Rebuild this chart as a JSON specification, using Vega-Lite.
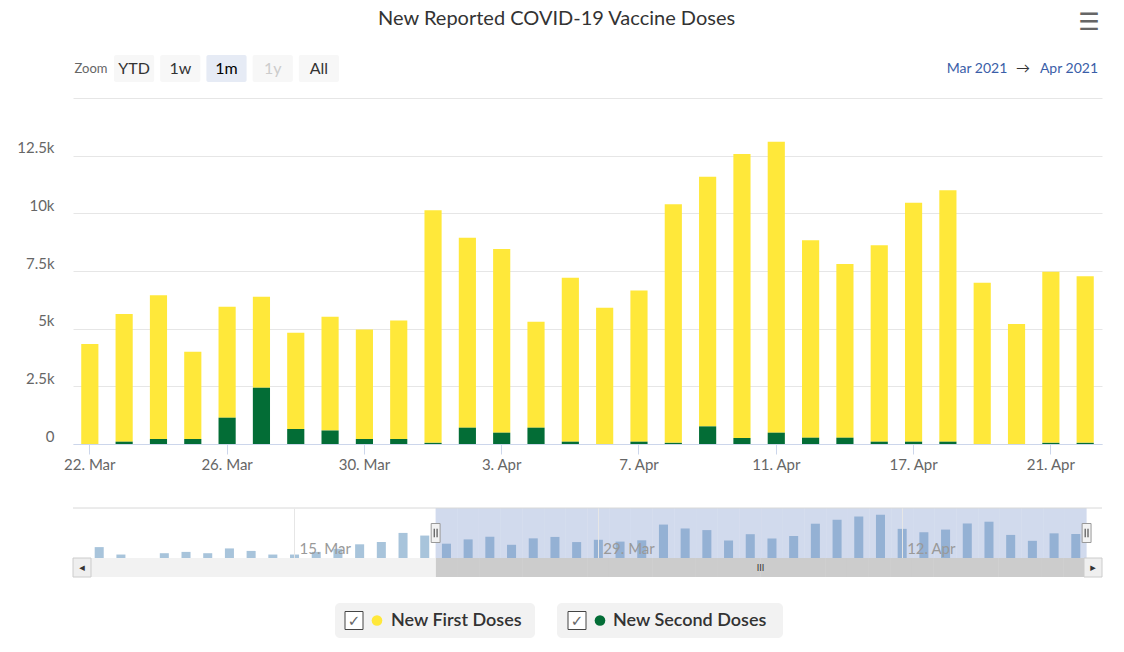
{
  "$schema": "https://vega.github.io/schema/vega-lite/v6.json",
  "padding": {"left": 16, "top": 8, "right": 0, "bottom": 0},
  "background": "white",
  "title": {"text": "New Reported COVID-19 Vaccine Doses", "fontSize": 20, "fontWeight": "normal", "color": "#333333", "font": "Lato", "anchor": "middle", "dx": -3, "offset": -18},
  "config": {"view": {"stroke": null}, "font": "Lato", "axis": {"labelFont": "Lato"}},
  "datasets": {
    "main": [
      {"d": "22. Mar", "New First Doses": 4336, "New Second Doses": 0},
      {"d": "23. Mar", "New First Doses": 5537, "New Second Doses": 100},
      {"d": "24. Mar", "New First Doses": 6227, "New Second Doses": 217},
      {"d": "25. Mar", "New First Doses": 3785, "New Second Doses": 217},
      {"d": "26. Mar", "New First Doses": 4813, "New Second Doses": 1140},
      {"d": "27. Mar", "New First Doses": 3946, "New Second Doses": 2441},
      {"d": "28. Mar", "New First Doses": 4176, "New Second Doses": 650},
      {"d": "29. Mar", "New First Doses": 4930, "New Second Doses": 590},
      {"d": "30. Mar", "New First Doses": 4752, "New Second Doses": 217},
      {"d": "31. Mar", "New First Doses": 5142, "New Second Doses": 217},
      {"d": "1. Apr", "New First Doses": 10079, "New Second Doses": 50},
      {"d": "2. Apr", "New First Doses": 8238, "New Second Doses": 707},
      {"d": "3. Apr", "New First Doses": 7965, "New Second Doses": 490},
      {"d": "4. Apr", "New First Doses": 4596, "New Second Doses": 707},
      {"d": "5. Apr", "New First Doses": 7111, "New Second Doses": 100},
      {"d": "6. Apr", "New First Doses": 5910, "New Second Doses": 0},
      {"d": "7. Apr", "New First Doses": 6560, "New Second Doses": 100},
      {"d": "8. Apr", "New First Doses": 10339, "New Second Doses": 50},
      {"d": "9. Apr", "New First Doses": 10827, "New Second Doses": 763},
      {"d": "10. Apr", "New First Doses": 12314, "New Second Doses": 260},
      {"d": "11. Apr", "New First Doses": 12618, "New Second Doses": 490},
      {"d": "12. Apr", "New First Doses": 8555, "New Second Doses": 273},
      {"d": "13. Apr", "New First Doses": 7532, "New Second Doses": 273},
      {"d": "14. Apr", "New First Doses": 8511, "New Second Doses": 100},
      {"d": "17. Apr", "New First Doses": 10363, "New Second Doses": 100},
      {"d": "18. Apr", "New First Doses": 10896, "New Second Doses": 100},
      {"d": "19. Apr", "New First Doses": 6994, "New Second Doses": 0},
      {"d": "20. Apr", "New First Doses": 5203, "New Second Doses": 0},
      {"d": "21. Apr", "New First Doses": 7421, "New Second Doses": 50},
      {"d": "22. Apr", "New First Doses": 7217, "New Second Doses": 50}
    ],
    "nav": [
      {"d": "6. Mar", "total": 3300}, {"d": "7. Mar", "total": 1050}, {"d": "8. Mar", "total": 0},
      {"d": "9. Mar", "total": 1450}, {"d": "10. Mar", "total": 1850}, {"d": "11. Mar", "total": 1450},
      {"d": "12. Mar", "total": 2900}, {"d": "13. Mar", "total": 2150}, {"d": "14. Mar", "total": 1050},
      {"d": "15. Mar", "total": 1050}, {"d": "16. Mar", "total": 1850}, {"d": "17. Mar", "total": 2800},
      {"d": "18. Mar", "total": 4150}, {"d": "19. Mar", "total": 4850}, {"d": "20. Mar", "total": 7600},
      {"d": "21. Mar", "total": 6800}, {"d": "22. Mar", "total": 4336}, {"d": "23. Mar", "total": 5637},
      {"d": "24. Mar", "total": 6444}, {"d": "25. Mar", "total": 4002}, {"d": "26. Mar", "total": 5953},
      {"d": "27. Mar", "total": 6387}, {"d": "28. Mar", "total": 4826}, {"d": "29. Mar", "total": 5520},
      {"d": "30. Mar", "total": 4969}, {"d": "31. Mar", "total": 5359}, {"d": "1. Apr", "total": 10129},
      {"d": "2. Apr", "total": 8945}, {"d": "3. Apr", "total": 8455}, {"d": "4. Apr", "total": 5303},
      {"d": "5. Apr", "total": 7211}, {"d": "6. Apr", "total": 5910}, {"d": "7. Apr", "total": 6660},
      {"d": "8. Apr", "total": 10389}, {"d": "9. Apr", "total": 11590}, {"d": "10. Apr", "total": 12574},
      {"d": "11. Apr", "total": 13108}, {"d": "12. Apr", "total": 8828}, {"d": "13. Apr", "total": 7805},
      {"d": "14. Apr", "total": 8611}, {"d": "17. Apr", "total": 10463}, {"d": "18. Apr", "total": 10996},
      {"d": "19. Apr", "total": 6994}, {"d": "20. Apr", "total": 5203}, {"d": "21. Apr", "total": 7471},
      {"d": "22. Apr", "total": 7267}
    ],
    "legend": [{"s": "New First Doses"}, {"s": "New Second Doses"}],
    "buttons": [{"b": "YTD"}, {"b": "1w"}, {"b": "1m"}, {"b": "1y"}, {"b": "All"}],
    "range": [{"t": "Mar 2021"}, {"t": "→"}, {"t": "Apr 2021"}],
    "arrows": [{"a": "◂"}, {"a": "▸"}]
  },
  "bounds": "flush",
  "spacing": 16,
  "vconcat": [
    {
      "width": 1029, "height": 27,
      "resolve": {"scale": {"x": "independent"}},
      "layer": [
        {"data": {"values": [{"t": "Zoom"}]},
         "mark": {"type": "text", "fontSize": 13, "color": "#666666"},
         "encoding": {"x": {"field": "t", "type": "nominal", "axis": null, "scale": {"range": [0, 36], "paddingInner": 0, "paddingOuter": 0}},
                      "text": {"field": "t"}}},
        {"data": {"name": "buttons"},
         "encoding": {"x": {"field": "b", "type": "nominal", "sort": null, "axis": null, "scale": {"range": [41, 266], "paddingInner": 0.13, "paddingOuter": 0}}},
         "layer": [
           {"mark": {"type": "rect", "cornerRadius": 2},
            "encoding": {"fill": {"condition": {"test": "datum.b === '1m'", "value": "#e6ebf5"}, "value": "#f7f7f7"}}},
           {"mark": {"type": "text", "fontSize": 16},
            "encoding": {
              "text": {"field": "b"},
              "color": {"condition": [{"test": "datum.b === '1m'", "value": "#000000"}, {"test": "datum.b === '1y'", "value": "#cccccc"}], "value": "#333333"},
              "fontWeight": {"condition": {"test": "datum.b === '1m'", "value": "bold"}, "value": "normal"}
            }}
         ]},
        {"data": {"name": "range"},
         "mark": {"type": "text", "fontSize": 14},
         "encoding": {
           "x": {"field": "t", "type": "nominal", "sort": null, "axis": null, "scale": {"type": "point", "range": [904, 996], "padding": 0}},
           "text": {"field": "t"},
           "color": {"condition": {"test": "datum.t === '→'", "value": "#333333"}, "value": "#3a5ea8"}
         }},
        {"data": {"values": [{"t": "☰"}]},
         "mark": {"type": "text", "fontSize": 24, "color": "#666666", "dy": -46, "font": "DejaVu Sans"},
         "encoding": {"x": {"field": "t", "type": "nominal", "axis": null, "scale": {"range": [1006, 1026], "paddingInner": 0, "paddingOuter": 0}},
                      "text": {"field": "t"}}}
      ]
    },
    {
      "bounds": "flush",
      "spacing": 64,
      "vconcat": [
        {
          "width": 1029, "height": 346,
          "data": {"name": "main"},
          "transform": [{"fold": ["New First Doses", "New Second Doses"], "as": ["series", "doses"]}],
          "mark": {"type": "bar"},
          "encoding": {
            "x": {"field": "d", "type": "nominal", "sort": null,
                  "scale": {"paddingInner": 0.5, "paddingOuter": 0.24},
                  "axis": {"title": null, "values": ["22. Mar", "26. Mar", "30. Mar", "3. Apr", "7. Apr", "11. Apr", "17. Apr", "21. Apr"],
                           "labelAngle": 0, "labelFontSize": 15, "labelColor": "#666666", "domainColor": "#ccd6eb", "tickColor": "#ccd6eb", "tickSize": 10, "labelPadding": 3, "grid": false}},
            "y": {"field": "doses", "type": "quantitative", "stack": "zero",
                  "scale": {"domain": [0, 15000], "nice": false},
                  "axis": {"title": null, "values": [0, 2500, 5000, 7500, 10000, 12500, 15000],
                           "labelExpr": "datum.value >= 15000 ? '' : datum.value == 0 ? '0' : (datum.value / 1000) + 'k'",
                           "labelFontSize": 15, "labelColor": "#666666", "gridColor": "#e6e6e6", "domain": false, "ticks": false, "labelPadding": 19, "labelBaseline": "bottom"}},
            "color": {"field": "series", "type": "nominal", "scale": {"domain": ["New First Doses", "New Second Doses"], "range": ["#ffe83a", "#036d36"]}, "legend": null},
            "order": {"field": "series", "sort": "descending"}
          }
        },
        {
          "bounds": "flush",
          "spacing": 0,
          "vconcat": [
            {
              "width": 1029, "height": 50,
              "layer": [
                {"data": {"name": "nav"},
                 "mark": {"type": "bar", "color": "#a8c4db"},
                 "encoding": {
                   "x": {"field": "d", "type": "nominal", "sort": null,
                         "scale": {"domain": ["6. Mar","7. Mar","8. Mar","9. Mar","10. Mar","11. Mar","12. Mar","13. Mar","14. Mar","15. Mar","16. Mar","17. Mar","18. Mar","19. Mar","20. Mar","21. Mar","22. Mar","23. Mar","24. Mar","25. Mar","26. Mar","27. Mar","28. Mar","29. Mar","30. Mar","31. Mar","1. Apr","2. Apr","3. Apr","4. Apr","5. Apr","6. Apr","7. Apr","8. Apr","9. Apr","10. Apr","11. Apr","12. Apr","13. Apr","14. Apr","17. Apr","18. Apr","19. Apr","20. Apr","21. Apr","22. Apr"],
                                   "paddingInner": 0.584, "paddingOuter": 1.077},
                         "axis": {"title": null, "values": ["15. Mar", "29. Mar", "12. Apr"], "grid": true, "gridColor": "#e6e6e6", "domain": false, "ticks": false, "tickSize": 0,
                                  "labelAngle": 0, "labelAlign": "left", "labelBaseline": "alphabetic", "labelPadding": -5, "labelOffset": 5,
                                  "labelFontSize": 15, "labelColor": "#999999", "zindex": 1, "bandPosition": 0.5}},
                   "y": {"field": "total", "type": "quantitative", "scale": {"domain": [0, 15150], "nice": false}, "axis": null}
                 }},
                {"data": {"name": "main"},
                 "mark": {"type": "bar", "color": "#6685c2", "opacity": 0.3, "width": {"band": 2.4}},
                 "encoding": {"x": {"field": "d", "type": "nominal", "sort": null}}},
                {"data": {"values": [{}]},
                 "mark": {"type": "rule", "color": "#d8d8d8"},
                 "encoding": {"y": {"datum": 15150}}},
                {"data": {"values": [{}]},
                 "mark": {"type": "point", "shape": "M-0.47,-1L0.47,-1L0.47,1L-0.47,1Z", "size": 361, "filled": true, "fill": "#f2f2f2", "stroke": "#999999", "strokeWidth": 1, "opacity": 1, "xOffset": -10.8},
                 "encoding": {"x": {"datum": "22. Mar", "type": "nominal"}}},
                {"data": {"values": [{}]},
                 "mark": {"type": "point", "shape": "M-0.15,-0.45L-0.15,0.45M0.15,-0.45L0.15,0.45", "size": 361, "filled": false, "stroke": "#333333", "strokeWidth": 1, "opacity": 1, "xOffset": -10.8},
                 "encoding": {"x": {"datum": "22. Mar", "type": "nominal"}}},
                {"data": {"values": [{}]},
                 "mark": {"type": "point", "shape": "M-0.47,-1L0.47,-1L0.47,1L-0.47,1Z", "size": 361, "filled": true, "fill": "#f2f2f2", "stroke": "#999999", "strokeWidth": 1, "opacity": 1, "xOffset": 10.8},
                 "encoding": {"x": {"datum": "22. Apr", "type": "nominal"}}},
                {"data": {"values": [{}]},
                 "mark": {"type": "point", "shape": "M-0.15,-0.45L-0.15,0.45M0.15,-0.45L0.15,0.45", "size": 361, "filled": false, "stroke": "#333333", "strokeWidth": 1, "opacity": 1, "xOffset": 10.8},
                 "encoding": {"x": {"datum": "22. Apr", "type": "nominal"}}}
              ]
            },
            {
              "bounds": "flush",
              "spacing": 26,
              "vconcat": [
                {
                  "width": 1029, "height": 19,
                  "view": {"fill": "#f2f2f2", "stroke": null},
                  "resolve": {"scale": {"x": "independent"}},
                  "layer": [
                    {"encoding": {"x": {"field": "d", "type": "nominal", "axis": null,
                                        "scale": {"domain": ["6. Mar","7. Mar","8. Mar","9. Mar","10. Mar","11. Mar","12. Mar","13. Mar","14. Mar","15. Mar","16. Mar","17. Mar","18. Mar","19. Mar","20. Mar","21. Mar","22. Mar","23. Mar","24. Mar","25. Mar","26. Mar","27. Mar","28. Mar","29. Mar","30. Mar","31. Mar","1. Apr","2. Apr","3. Apr","4. Apr","5. Apr","6. Apr","7. Apr","8. Apr","9. Apr","10. Apr","11. Apr","12. Apr","13. Apr","14. Apr","17. Apr","18. Apr","19. Apr","20. Apr","21. Apr","22. Apr"],
                                                  "range": [18, 1011], "paddingInner": 0.584, "paddingOuter": 0.247}}},
                     "layer": [
                       {"data": {"name": "main"},
                        "mark": {"type": "bar", "color": "#cccccc", "width": {"band": 2.45}}},
                       {"data": {"values": [{"d": "5. Apr", "t": "III"}]},
                        "mark": {"type": "text", "fontSize": 9, "color": "#333333", "dx": 10.8},
                        "encoding": {"text": {"field": "t"}}}
                     ]},
                    {"data": {"name": "arrows"},
                     "encoding": {"x": {"field": "a", "type": "nominal", "sort": null, "axis": null, "scale": {"range": [0, 1029], "paddingInner": 0.9822, "paddingOuter": 0}}},
                     "layer": [
                       {"mark": {"type": "rect", "fill": "#efefef", "stroke": "#cccccc", "strokeWidth": 1}},
                       {"mark": {"type": "text", "font": "DejaVu Sans", "fontSize": 11, "color": "#333333"},
                        "encoding": {"text": {"field": "a"}}}
                     ]}
                  ]
                },
                {
                  "bounds": "flush",
                  "spacing": 22,
                  "hconcat": [
                    {
                      "width": 240, "height": 35,
                      "data": {"values": [{}]},
                      "mark": {"type": "text", "text": ""},
                      "encoding": {}
                    },
                    {
                      "width": 200, "height": 35,
                      "view": {"fill": "#f2f2f2", "cornerRadius": 5, "stroke": null},
                      "data": {"name": "legend"},
                      "transform": [{"filter": "datum.s === 'New First Doses'"}],
                      "layer": [
                        {"mark": {"type": "point", "shape": "square", "size": 324, "filled": true, "fill": "#ffffff", "stroke": "#444444", "strokeWidth": 1, "opacity": 1, "xOffset": -81}, "encoding": {}},
                        {"mark": {"type": "text", "text": "✓", "font": "DejaVu Sans", "fontSize": 15, "color": "#666666", "dx": -81}, "encoding": {}},
                        {"mark": {"type": "point", "shape": "circle", "size": 113, "filled": true, "opacity": 1, "xOffset": -58},
                         "encoding": {"color": {"field": "s", "type": "nominal", "scale": {"domain": ["New First Doses", "New Second Doses"], "range": ["#ffe83a", "#036d36"]}, "legend": null}}},
                        {"mark": {"type": "text", "align": "left", "dx": -44, "fontSize": 18, "fontWeight": 600, "color": "#333333"},
                         "encoding": {"text": {"field": "s"}}}
                      ]
                    },
                    {
                      "width": 226, "height": 35,
                      "view": {"fill": "#f2f2f2", "cornerRadius": 5, "stroke": null},
                      "data": {"name": "legend"},
                      "transform": [{"filter": "datum.s === 'New Second Doses'"}],
                      "layer": [
                        {"mark": {"type": "point", "shape": "square", "size": 324, "filled": true, "fill": "#ffffff", "stroke": "#444444", "strokeWidth": 1, "opacity": 1, "xOffset": -93}, "encoding": {}},
                        {"mark": {"type": "text", "text": "✓", "font": "DejaVu Sans", "fontSize": 15, "color": "#666666", "dx": -93}, "encoding": {}},
                        {"mark": {"type": "point", "shape": "circle", "size": 113, "filled": true, "opacity": 1, "xOffset": -70},
                         "encoding": {"color": {"field": "s", "type": "nominal", "scale": {"domain": ["New First Doses", "New Second Doses"], "range": ["#ffe83a", "#036d36"]}, "legend": null}}},
                        {"mark": {"type": "text", "align": "left", "dx": -57, "fontSize": 18, "fontWeight": 600, "color": "#333333"},
                         "encoding": {"text": {"field": "s"}}}
                      ]
                    }
                  ]
                }
              ]
            }
          ]
        }
      ]
    }
  ]
}
